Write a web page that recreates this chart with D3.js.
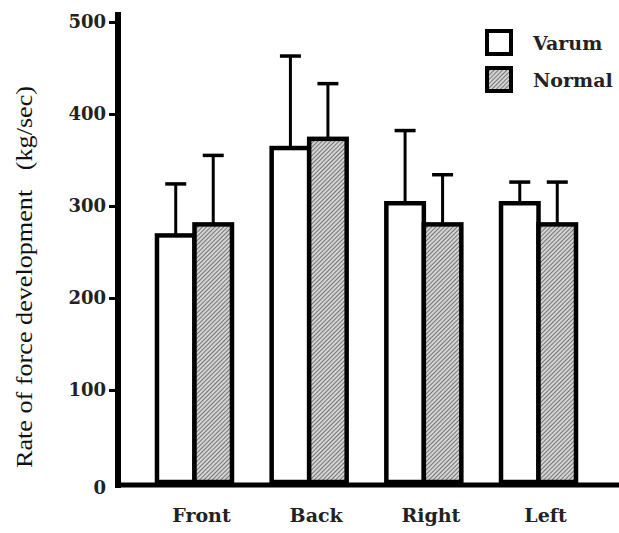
<!DOCTYPE html>
<html>
<head>
<meta charset="utf-8">
<script src="https://cdn.jsdelivr.net/npm/d3@7"></script>
<style>
  html, body { margin: 0; padding: 0; background: #fff; }
  svg { display: block; }
</style>
</head>
<body>
<svg id="chart" width="619" height="533"></svg>
<script>
const categories = ["Front", "Back", "Right", "Left"];
const seriesNames = ["Varum", "Normal"];
const varumMean = [268, 363, 303, 303];
const varumSD   = [56, 100, 79, 23];
const normalMean = [280, 373, 280, 280];
const normalSD   = [75, 60, 54, 46];
const yTicks = [0, 100, 200, 300, 400, 500];

const svg = d3.select("#chart");
const defs = svg.append("defs");
const pat = defs.append("pattern")
  .attr("id", "hatch").attr("patternUnits", "userSpaceOnUse")
  .attr("width", 3).attr("height", 3)
  .attr("patternTransform", "rotate(45)");
pat.append("rect").attr("width", 3).attr("height", 3).attr("fill", "#d4d4d4");
pat.append("line").attr("x1", 0).attr("y1", 0).attr("x2", 0).attr("y2", 3)
  .attr("stroke", "#555").attr("stroke-width", 1.5);

const y = d3.scaleLinear().domain([0, 500]).range([482, 22]);
const x0 = d3.scaleBand().domain(categories).range([118, 615])
  .paddingInner(0.346).paddingOuter(0.34);
const x1 = d3.scaleBand().domain(seriesNames).range([0, x0.bandwidth()]);

const data = categories.map((c, i) => ({
  cat: c,
  vals: [
    { s: "Varum", m: varumMean[i], sd: varumSD[i] },
    { s: "Normal", m: normalMean[i], sd: normalSD[i] }
  ]
}));

const fills = { Varum: "#fff", Normal: "url(#hatch)" };

const g = svg.append("g");
const groups = g.selectAll("g.grp").data(data).join("g")
  .attr("transform", d => `translate(${x0(d.cat)},0)`);

// error bars
groups.selectAll("g.err").data(d => d.vals).join("g").each(function(d) {
  const cx = x1(d.s) + x1.bandwidth() / 2;
  const sel = d3.select(this);
  sel.append("line").attr("x1", cx).attr("x2", cx)
    .attr("y1", y(d.m)).attr("y2", y(d.m + d.sd))
    .attr("stroke", "#000").attr("stroke-width", 3);
  sel.append("line").attr("x1", cx - 10.5).attr("x2", cx + 10.5)
    .attr("y1", y(d.m + d.sd)).attr("y2", y(d.m + d.sd))
    .attr("stroke", "#000").attr("stroke-width", 3.5);
});

groups.selectAll("rect").data(d => d.vals).join("rect")
  .attr("x", d => x1(d.s))
  .attr("width", x1.bandwidth())
  .attr("y", d => y(d.m))
  .attr("height", d => y(0) - y(d.m))
  .attr("fill", d => fills[d.s])
  .attr("stroke", "#000").attr("stroke-width", 4.5);

// y axis
const yAxis = d3.axisLeft(y).tickValues(yTicks).tickSize(9).tickPadding(3);
const ya = svg.append("g").attr("transform", "translate(118,0)").call(yAxis);
ya.select(".domain").remove();
ya.selectAll(".tick line").attr("stroke-width", 3).attr("stroke", "#000");
ya.selectAll(".tick text")
  .attr("font-family", "DejaVu Serif").attr("font-weight", "bold")
  .attr("font-size", 18).attr("fill", "#222");
ya.selectAll(".tick").filter(d => d === 0).select("text")
  .attr("dy", "0.65em");
ya.selectAll(".tick").filter(d => d === 0).select("line").remove();

svg.append("line").attr("x1", 118).attr("x2", 118).attr("y1", 12).attr("y2", 488)
  .attr("stroke", "#000").attr("stroke-width", 6);

// x axis
const xAxis = d3.axisBottom(x0).tickSize(0).tickPadding(24);
const xa = svg.append("g").attr("transform", "translate(0,485)").call(xAxis);
xa.select(".domain").remove();
xa.selectAll(".tick text")
  .attr("font-family", "DejaVu Serif").attr("font-weight", "bold")
  .attr("font-size", 19).attr("fill", "#222")
  .attr("dx", 7);
svg.append("line").attr("x1", 115).attr("x2", 619).attr("y1", 485).attr("y2", 485)
  .attr("stroke", "#000").attr("stroke-width", 5);

// y label
svg.append("text")
  .attr("transform", "translate(32,277) rotate(-90)")
  .attr("text-anchor", "middle")
  .attr("font-family", "Liberation Serif").attr("font-size", 23)
  .attr("fill", "#111")
  .attr("xml:space", "preserve")
  .attr("textLength", 382)
  .attr("lengthAdjust", "spacingAndGlyphs")
  .text("Rate of force development   (kg/sec)");

// legend
const leg = svg.append("g").attr("transform", "translate(487,31)");
seriesNames.forEach((s, i) => {
  const row = leg.append("g").attr("transform", `translate(0,${i * 37})`);
  row.append("rect").attr("width", 24).attr("height", 23)
    .attr("fill", fills[s]).attr("stroke", "#000").attr("stroke-width", 4);
  row.append("text").attr("x", 46).attr("y", 19)
    .attr("font-family", "DejaVu Serif").attr("font-weight", "bold")
    .attr("font-size", 19).attr("fill", "#222").text(s);
});
</script>
</body>
</html>
